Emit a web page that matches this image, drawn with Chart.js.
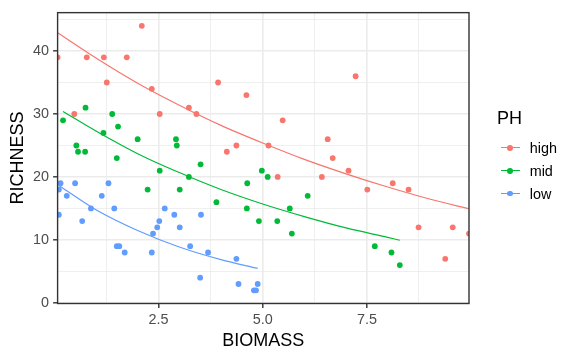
<!DOCTYPE html>
<html>
<head>
<meta charset="utf-8">
<script src="https://cdn.jsdelivr.net/npm/chart.js@4/dist/chart.umd.min.js"></script>
<style>
  html, body { margin: 0; padding: 0; background: #fff; }
  #wrap { position: relative; width: 576px; height: 360px; overflow: hidden; }
  #c { position: absolute; left: 0; top: 0; }
  .lg { position: absolute; font-family: "Liberation Sans", Arial, sans-serif; color: #000; line-height: 1; white-space: nowrap; }
  .key { position: absolute; }
  .key .ln { position: absolute; left: 0; top: -0.6px; width: 19px; height: 1.2px; }
  .key .dt { position: absolute; left: 6.7px; top: -2.9px; width: 5.8px; height: 5.8px; border-radius: 50%; }
</style>
</head>
<body>
<div id="wrap">
  <canvas id="c" width="576" height="360"></canvas>
  <div class="lg" style="left:497px; top:108.8px; font-size:18px;">PH</div>
  <div class="key" style="left:500.5px; top:147.7px;"><div class="ln" style="background:#F8766D"></div><div class="dt" style="background:#F8766D"></div></div>
  <div class="key" style="left:500.5px; top:170.6px;"><div class="ln" style="background:#00BA38"></div><div class="dt" style="background:#00BA38"></div></div>
  <div class="key" style="left:500.5px; top:193.4px;"><div class="ln" style="background:#619CFF"></div><div class="dt" style="background:#619CFF"></div></div>
  <div class="lg" style="left:529.7px; top:141.1px; font-size:14.4px;">high</div>
  <div class="lg" style="left:529.7px; top:164.1px; font-size:14.4px;">mid</div>
  <div class="lg" style="left:529.7px; top:186.9px; font-size:14.4px;">low</div>
</div>
<script>
// ---- data ----
const groups = ['high', 'mid', 'low'];

const high_x = [0.08, 0.78, 1.19, 1.74, 2.10, 1.26, 2.34, 0.48, 2.53, 3.23, 3.41, 3.93, 4.61, 5.48, 5.14, 4.37, 4.14, 7.23, 6.56, 6.68, 7.06, 7.51, 8.12, 8.50, 8.74, 9.56, 9.95, 9.38, 5.36, 6.42];
const high_y = [39, 39, 39, 39, 44, 35, 34, 30, 30, 31, 30, 35, 33, 29, 25, 25, 24, 36, 26, 23, 21, 18, 19, 18, 12, 12, 11, 7, 20, 20];

const mid_x = [0.21, 0.75, 1.39, 1.53, 1.18, 2.00, 2.92, 2.94, 0.53, 0.57, 0.74, 1.50, 2.53, 3.23, 3.51, 2.24, 3.01, 4.98, 5.12, 4.63, 3.89, 6.08, 4.62, 5.65, 4.91, 5.35, 5.70, 7.69, 8.09, 8.29];
const mid_y = [29, 31, 30, 28, 27, 26, 26, 25, 25, 24, 24, 23, 21, 20, 22, 18, 18, 21, 20, 19, 16, 17, 15, 15, 13, 13, 11, 9, 8, 6];

const low_x = [0.15, 0.11, 0.50, 1.30, 0.30, 1.14, 0.88, 1.44, 0.11, 0.67, 2.65, 2.88, 3.52, 2.52, 2.47, 3.01, 2.37, 1.50, 1.56, 1.69, 2.34, 3.26, 3.50, 3.69, 4.37, 4.42, 4.88, 4.79, 4.84];
const low_y = [19, 18, 19, 19, 17, 17, 15, 15, 14, 13, 15, 14, 14, 13, 12, 12, 11, 9, 9, 8, 8, 9, 4, 8, 7, 3, 3, 2, 2];

// fitted curves
const high_fit_x = [0.08, 1, 2, 3, 4, 5, 6, 7, 8, 9, 9.95];
const high_fit_y = [42.9, 38.9, 34.9, 31.4, 28.2, 25.4, 22.8, 20.5, 18.4, 16.5, 14.95];
const mid_fit_x = [0.21, 1, 2, 3, 4, 5, 6, 7, 8, 8.29];
const mid_fit_y = [30.4, 27.3, 23.7, 20.7, 18.0, 15.7, 13.7, 11.9, 10.4, 9.95];
const low_fit_x = [0.11, 1, 2, 3, 4, 4.88];
const low_fit_y = [18.65, 14.8, 11.5, 8.87, 6.86, 5.47];

const x_ticks = [1.25, 2.5, 3.75, 5, 6.25, 7.5, 8.75];
const x_major = [2.5, 5, 7.5];
const x_labels = ['2.5', '5.0', '7.5'];
const y_ticks = [0, 5, 10, 15, 20, 25, 30, 35, 40, 45];
const y_major = [0, 10, 20, 30, 40];
const y_labels = ['0', '10', '20', '30', '40'];

// ---- styling ----
const COLORS = { high: '#F8766D', mid: '#00BA38', low: '#619CFF' };
const FONT = '"Liberation Sans", Arial, sans-serif';

const pts = (xs, ys) => xs.map((x, i) => ({ x: x, y: ys[i] }));
const series = {
  high: [high_x, high_y, high_fit_x, high_fit_y],
  mid: [mid_x, mid_y, mid_fit_x, mid_fit_y],
  low: [low_x, low_y, low_fit_x, low_fit_y]
};

const datasets = [];
groups.forEach(g => {
  const [xs, ys, fx, fy] = series[g];
  datasets.push({
    type: 'scatter', label: g, data: pts(xs, ys),
    backgroundColor: COLORS[g], borderColor: COLORS[g], borderWidth: 0,
    pointRadius: 2.9, pointHoverRadius: 2.9, clip: 0, order: 2
  });
  datasets.push({
    type: 'line', label: g + ' fit', data: pts(fx, fy),
    borderColor: COLORS[g], backgroundColor: COLORS[g], borderWidth: 1.2,
    pointRadius: 0, showLine: true, fill: false, cubicInterpolationMode: 'monotone',
    clip: 0, order: 1
  });
});

const isMaj = (arr, v) => arr.some(m => Math.abs(m - v) < 1e-9);

const frame = {
  id: 'frame',
  afterDatasetsDraw(chart) {
    const a = chart.chartArea, ctx = chart.ctx;
    ctx.save();
    ctx.strokeStyle = '#333333';
    ctx.lineWidth = 1.4;
    ctx.strokeRect(a.left, a.top, a.right - a.left, a.bottom - a.top);
    ctx.restore();
  }
};

new Chart(document.getElementById('c'), {
  type: 'scatter',
  data: { datasets: datasets },
  plugins: [frame],
  options: {
    responsive: false, animation: false, devicePixelRatio: 1,
    events: [],
    layout: { padding: { top: 9, right: 107, left: 0, bottom: 0 } },
    plugins: { legend: { display: false }, tooltip: { enabled: false } },
    scales: {
      x: {
        type: 'linear', min: 0.08, max: 9.95,
        afterBuildTicks: s => { s.ticks = x_ticks.map(v => ({ value: v })); },
        afterFit: s => { s.height = 56.5; },
        grid: {
          color: '#EBEBEB',
          lineWidth: c => isMaj(x_major, c.tick.value) ? 1.6 : 0.8,
          tickColor: c => isMaj(x_major, c.tick.value) ? '#333333' : 'rgba(0,0,0,0)',
          tickWidth: 1.4, tickLength: 4.5, drawOnChartArea: true
        },
        border: { display: false },
        ticks: {
          autoSkip: false, maxRotation: 0, padding: 3.5,
          color: '#4D4D4D', font: { family: FONT, size: 14.4 },
          callback: v => { const i = x_major.findIndex(m => Math.abs(m - v) < 1e-9); return i >= 0 ? x_labels[i] : ''; }
        },
        title: { display: true, text: 'BIOMASS', color: '#000', font: { family: FONT, size: 18 }, padding: { top: 0, bottom: 8.5 } }
      },
      y: {
        type: 'linear', min: -0.1, max: 46.1,
        afterBuildTicks: s => { s.ticks = y_ticks.map(v => ({ value: v })); },
        afterFit: s => { s.width = 57.6; },
        grid: {
          color: '#EBEBEB',
          lineWidth: c => isMaj(y_major, c.tick.value) ? 1.6 : 0.8,
          tickColor: c => isMaj(y_major, c.tick.value) ? '#333333' : 'rgba(0,0,0,0)',
          tickWidth: 1.4, tickLength: 4.5, drawOnChartArea: true
        },
        border: { display: false },
        ticks: {
          autoSkip: false, padding: 4,
          color: '#4D4D4D', font: { family: FONT, size: 14.4 },
          callback: v => { const i = y_major.findIndex(m => Math.abs(m - v) < 1e-9); return i >= 0 ? y_labels[i] : ''; }
        },
        title: { display: true, text: 'RICHNESS', color: '#000', font: { family: FONT, size: 18 }, padding: { top: 7, bottom: 0 } }
      }
    }
  }
});
</script>
</body>
</html>
